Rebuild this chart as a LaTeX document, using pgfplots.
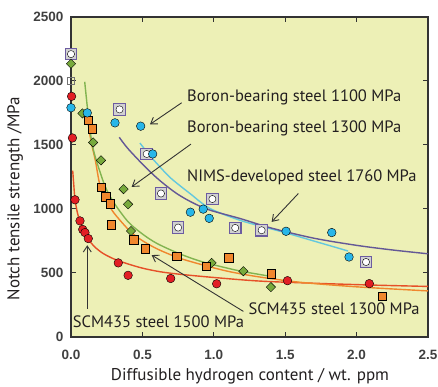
\documentclass[border=0pt]{standalone}
\usepackage{fontspec}
\setmainfont{PT Sans}
\newfontfamily\tickfont{Liberation Sans}
\usepackage{pgfplots}
\pgfplotsset{compat=1.18}
\usetikzlibrary{arrows.meta}
\definecolor{bgyellow}{RGB}{237,240,182}
\definecolor{nimsc}{RGB}{108,92,160}
\definecolor{cyanc}{RGB}{40,182,232}
\definecolor{greenc}{RGB}{120,170,60}
\definecolor{orangec}{RGB}{240,135,45}
\definecolor{redc}{RGB}{226,30,36}
\definecolor{redline}{RGB}{230,80,40}
\definecolor{purpleline}{RGB}{100,88,150}
\definecolor{cyanline}{RGB}{100,200,222}
\definecolor{greenline}{RGB}{130,180,80}
\definecolor{txt}{RGB}{35,31,32}
\begin{document}
\begin{tikzpicture}
\begin{axis}[
  scale only axis, width=357pt, height=320pt,
  xmin=0, xmax=2.5, ymin=0, ymax=2500,
  xtick={0,0.5,1.0,1.5,2.0,2.5}, ytick={0,500,1000,1500,2000,2500},
  tick align=inside, major tick length=5pt,
  tick style={draw=black!80, line width=1pt},
  axis line style={draw=black!80, line width=1.2pt},
  axis background/.style={fill=bgyellow},
  /pgf/number format/assume math mode=true,
  x tick label style={/pgf/number format/fixed, /pgf/number format/fixed zerofill, /pgf/number format/precision=1, yshift=-10pt},
  y tick label style={/pgf/number format/1000 sep={}, xshift=-4pt},
  tick label style={font=\tickfont\bfseries\fontsize{13.5}{15}\selectfont, text=black!75},
  clip=false,
]
% fitted curves
\addplot[redline, line width=1.4pt, smooth] coordinates {
 (0.012,1300) (0.02,1180) (0.028,1075) (0.045,970) (0.063,900) (0.09,820) (0.121,762) (0.17,700) (0.226,652) (0.3,610) (0.39,574) (0.5,538) (0.623,510) (0.763,490) (1.0,465) (1.32,437) (1.7,420) (2.1,406) (2.5,395)};
\addplot[orangec, line width=1.4pt, smooth] coordinates {
 (0.11,1740) (0.14,1530) (0.17,1382) (0.205,1173) (0.25,1062) (0.3,970) (0.4,842) (0.483,765) (0.6,690) (0.75,620) (0.9,570) (1.1,513) (1.32,469) (1.6,428) (2.0,392) (2.5,360)};
\addplot[greenline, line width=1.4pt, smooth] coordinates {
 (0.096,1994) (0.12,1740) (0.147,1512) (0.18,1370) (0.24,1174) (0.3,1050) (0.4,900) (0.5,805) (0.6,732) (0.75,655) (0.9,594) (1.05,550) (1.2,512) (1.42,470)};
\addplot[cyanline, line width=1.4pt, smooth] coordinates {
 (0.483,1515) (0.55,1420) (0.623,1329) (0.7,1240) (0.833,1121) (0.973,1004) (1.183,912) (1.35,860) (1.5,815) (1.7,750) (1.94,672)};
\addplot[purpleline, line width=1.4pt, smooth] coordinates {
 (0.338,1560) (0.4,1470) (0.53,1317) (0.63,1215) (0.74,1121) (0.85,1050) (0.973,991) (1.183,926) (1.4,852) (1.7,772) (2.0,716) (2.25,680) (2.5,650)};
% NIMS-developed steel 1760 MPa
\addplot[only marks, mark=square*, mark size=5.8pt, mark options={draw=nimsc, fill=black!18, line width=1.1pt}] coordinates {
 (0,2210) (0.34,1778) (0.53,1430) (0.63,1121) (0.75,855) (0.99,1078) (1.15,852) (1.335,834) (2.066,586)};
\addplot[only marks, mark=*, mark size=3.6pt, mark options={draw=none, fill=white}] coordinates {
 (0,2210) (0.34,1778) (0.53,1430) (0.63,1121) (0.75,855) (0.99,1078) (1.15,852) (1.335,834) (2.066,586)};
\addplot[only marks, mark=square, mark size=3.2pt, mark options={draw=black!55, line width=0.8pt}] coordinates {(0,2000)};
% Boron-bearing steel 1300 MPa
\addplot[only marks, mark=square*, mark size=3.3pt, mark options={fill=greenc, draw=none, rotate=45}] coordinates {
 (0,2135) (0.08,1747) (0.155,1520) (0.21,1380) (0.368,1155) (0.40,1037) (0.42,828) (0.985,579) (1.207,514) (1.40,390)};
% SCM435 steel 1300 MPa
\addplot[only marks, mark=square*, mark size=4.2pt, mark options={fill=orangec, draw=none}] coordinates {
 (0.122,1692) (0.148,1626) (0.211,1168) (0.244,1095) (0.273,1040) (0.282,876) (0.44,760) (0.52,691) (0.74,632) (0.947,555) (1.103,621) (1.40,496) (2.178,321)};
% SCM435 steel 1500 MPa
\addplot[only marks, mark=*, mark size=4.3pt, mark options={fill=redc, draw=none}] coordinates {
 (0.004,1880) (0.01,1555) (0.028,1072) (0.063,907) (0.082,840) (0.098,816) (0.121,769) (0.331,579) (0.40,482) (0.698,457) (1.02,416) (1.516,440) (2.089,417)};
% Boron-bearing steel 1100 MPa
\addplot[only marks, mark=*, mark size=4.3pt, mark options={fill=cyanc, draw=none}] coordinates {
 (0,1791) (0.114,1751) (0.308,1673) (0.488,1647) (0.572,1430) (0.836,975) (0.926,999) (0.968,927) (1.506,826) (1.826,816) (1.947,625)};
% annotations
\begin{scope}[draw=black!80, line width=0.9pt, -{Straight Barb[length=6pt,width=8pt]}]
\draw (axis cs:0.775,1830) -- (axis cs:0.553,1661);
\draw (axis cs:0.840,1507) -- (axis cs:0.425,1173);
\draw (axis cs:1.592,1121) -- (axis cs:1.405,899);
\draw (axis cs:1.207,200) -- (axis cs:0.565,640);
\draw (axis cs:0.114,222) -- (axis cs:0.114,717);
\end{scope}
\begin{scope}[every node/.style={font=\fontsize{16.5}{18}\selectfont, text=txt, anchor=west, inner sep=0pt}]
\node at (axis cs:0.812,1874) {Boron-bearing steel 1100 MPa};
\node at (axis cs:0.812,1629) {Boron-bearing steel 1300 MPa};
\node at (axis cs:0.812,1251) {NIMS-developed steel 1760 MPa};
\node at (axis cs:1.242,222) {SCM435 steel 1300 MPa};
\node at (axis cs:0.012,117) {SCM435 steel 1500 MPa};
\end{scope}
\node[rotate=90, font=\fontsize{17}{19}\selectfont, text=txt] at (axis cs:-0.392,1081) {Notch tensile strength /MPa};
\node[font=\fontsize{17}{19}\selectfont, text=txt] at (axis cs:1.2535,-307) {Diffusible hydrogen content / wt. ppm};
\end{axis}
\pgfresetboundingbox
\path (current axis.south west) ++(-71pt,-50pt) rectangle ++(438pt,387pt);
\end{tikzpicture}
\end{document}
